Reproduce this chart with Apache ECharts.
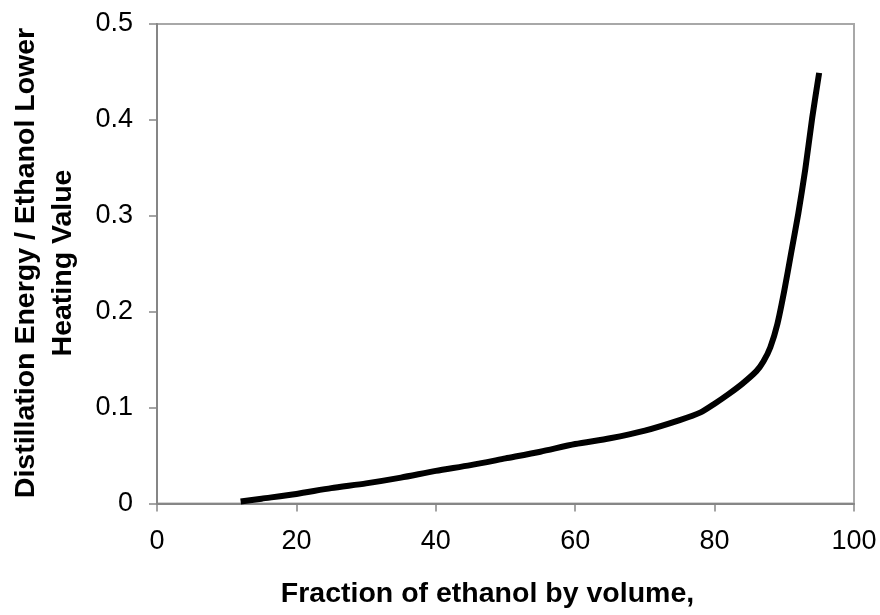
<!DOCTYPE html>
<html>
<head>
<meta charset="utf-8">
<script src="https://cdn.jsdelivr.net/npm/echarts@6/dist/echarts.min.js"></script>
<style>html,body{margin:0;padding:0;background:#fff;}#c{width:880px;height:615px;}</style>
</head>
<body>
<div id="c"></div>
<script>
var fractionX = [12, 15, 20, 25, 30, 35, 40, 45, 50, 55, 60, 65, 70, 75, 78, 80, 82, 84, 86, 87, 88, 89, 90, 91, 92, 93, 94, 95];
var energyRatio = [0.002, 0.005, 0.010, 0.016, 0.021, 0.027, 0.034, 0.040, 0.047, 0.054, 0.062, 0.068, 0.076, 0.087, 0.095, 0.104, 0.114, 0.125, 0.138, 0.148, 0.163, 0.187, 0.222, 0.262, 0.302, 0.348, 0.402, 0.449];
var xTitle = 'Fraction of ethanol by volume,';
var yTitle1 = 'Distillation Energy / Ethanol Lower';
var yTitle2 = 'Heating Value';

var seriesData = fractionX.map(function (x, i) { return [x, energyRatio[i]]; });

var chart = echarts.init(document.getElementById('c'), null, { renderer: 'canvas' });
var font = 'Liberation Sans, Arial, sans-serif';
chart.setOption({
  animation: false,
  backgroundColor: '#fff',
  grid: { left: 157, right: 26, top: 24, bottom: 111.5, show: true, borderColor: '#a8a8a8', borderWidth: 2, backgroundColor: 'transparent' },
  xAxis: {
    type: 'value', min: 0, max: 100, interval: 20,
    axisLine: { show: true, lineStyle: { color: '#868686', width: 2 } },
    axisTick: { show: true, length: 8, lineStyle: { color: '#868686', width: 1.5 } },
    axisLabel: { color: '#000', fontSize: 27, fontFamily: font, margin: 25 },
    splitLine: { show: false }
  },
  yAxis: {
    type: 'value', min: 0, max: 0.5, interval: 0.1,
    axisLine: { show: true, lineStyle: { color: '#868686', width: 2 } },
    axisTick: { show: true, length: 8, lineStyle: { color: '#868686', width: 1.5 } },
    axisLabel: { color: '#000', fontSize: 27, fontFamily: font, margin: 24 },
    splitLine: { show: false }
  },
  graphic: [
    { type: 'text', x: 487.5, y: 594, style: { text: xTitle, fill: '#000', font: 'bold 28.5px ' + font, textAlign: 'center', textVerticalAlign: 'middle' } },
    { type: 'text', x: 26, y: 263, rotation: Math.PI / 2, style: { text: yTitle1, fill: '#000', font: 'bold 28.5px ' + font, textAlign: 'center', textVerticalAlign: 'middle' } },
    { type: 'text', x: 63, y: 263, rotation: Math.PI / 2, style: { text: yTitle2, fill: '#000', font: 'bold 28.5px ' + font, textAlign: 'center', textVerticalAlign: 'middle' } }
  ],
  series: [{
    type: 'line',
    data: seriesData,
    smooth: 0.25,
    showSymbol: false,
    lineStyle: { color: '#000', width: 6, cap: 'butt', join: 'round' }
  }]
});
</script>
</body>
</html>
